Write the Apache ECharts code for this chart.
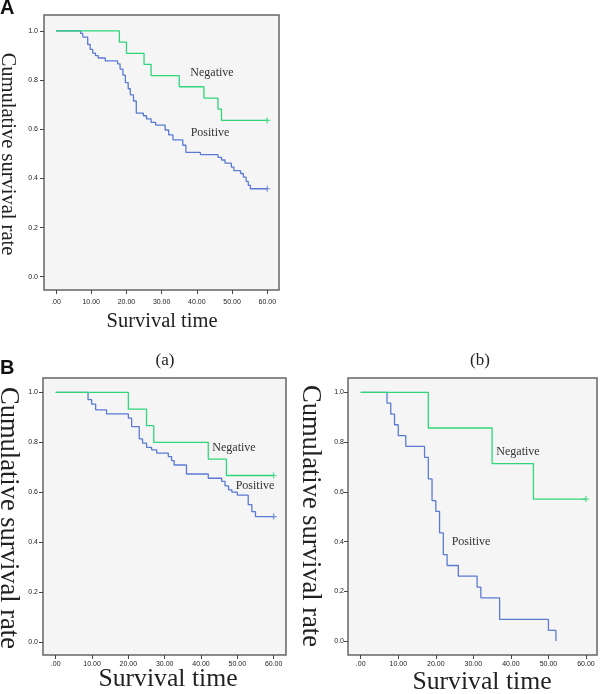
<!DOCTYPE html>
<html>
<head>
<meta charset="utf-8">
<script src="https://cdn.jsdelivr.net/npm/echarts@6/dist/echarts.min.js"></script>
<style>html,body{margin:0;padding:0;background:#fff;}#c{width:600px;height:694px;}</style>
</head>
<body>
<div id="c"></div>
<script>
// ---- tick labels ----
var xTickValues = [0, 10, 20, 30, 40, 50, 60];
var xTickLabels = ['.00', '10.00', '20.00', '30.00', '40.00', '50.00', '60.00'];
var yTickValues = [0, 0.2, 0.4, 0.6, 0.8, 1.0];
var yTickLabels = ['0.0', '0.2', '0.4', '0.6', '0.8', '1.0'];

// ---- Panel A ----
var aNegTime = [0, 18, 20, 25, 27, 35, 42, 46, 47, 60];
var aNegSurv = [1, 0.955, 0.909, 0.864, 0.818, 0.773, 0.727, 0.682, 0.636, 0.636];
var aPosTime = [0, 7, 7.6, 9, 9.7, 10.4, 11.2, 12, 14, 17.5, 18.2, 19, 19.7, 20.5, 21.1, 22, 22.8, 24.8, 25.7, 27, 28.3, 31, 32, 33.2, 36, 36.9, 41, 46, 47, 48, 49.8, 50.5, 52.4, 53.2, 54, 54.6, 55.2, 60];
var aPosSurv = [1, 0.99, 0.975, 0.945, 0.925, 0.91, 0.9, 0.89, 0.878, 0.866, 0.845, 0.82, 0.79, 0.765, 0.74, 0.715, 0.666, 0.655, 0.642, 0.628, 0.617, 0.597, 0.577, 0.557, 0.535, 0.506, 0.497, 0.486, 0.475, 0.462, 0.446, 0.432, 0.42, 0.405, 0.388, 0.372, 0.358, 0.358];

// ---- Panel B (a) ----
var baNegTime = [0, 20, 25, 27, 42, 47, 60];
var baNegSurv = [1, 0.933, 0.867, 0.8, 0.733, 0.667, 0.667];
var baPosTime = [0, 8.9, 9.9, 11, 14, 20, 20.9, 23, 23.9, 25, 26.4, 27.8, 31, 31.9, 32.6, 36, 42, 45.7, 46.6, 47.6, 48.5, 50, 53, 54, 55, 60];
var baPosSurv = [1, 0.971, 0.953, 0.93, 0.914, 0.897, 0.863, 0.814, 0.797, 0.78, 0.77, 0.757, 0.743, 0.727, 0.709, 0.673, 0.656, 0.643, 0.625, 0.609, 0.6, 0.588, 0.55, 0.522, 0.502, 0.502];

// ---- Panel B (b) ----
var bbNegTime = [0, 18, 35, 46, 60];
var bbNegSurv = [1, 0.857, 0.714, 0.571, 0.571];
var bbPosTime = [0, 7, 8, 9, 10, 12, 17, 18, 19, 20, 21, 22, 23, 26, 31, 32, 37, 50, 52];
var bbPosSurv = [1, 0.957, 0.913, 0.870, 0.826, 0.783, 0.739, 0.652, 0.565, 0.522, 0.435, 0.348, 0.304, 0.261, 0.217, 0.174, 0.087, 0.043, 0];

var GREEN = '#2fd67a';
var BLUE = '#5b7bd3';
var PLUS = 'path://M4,0h2v4h4v2h-4v4h-2v-4h-4v-2h4z';

function zip(t, s) { return t.map(function (v, i) { return [v, s[i]]; }); }
function lastPt(t, s) { return [[t[t.length - 1], s[s.length - 1]]]; }

var grids = [
  {left: 44, top: 15, width: 235, height: 275},
  {left: 43, top: 378, width: 243, height: 277},
  {left: 348, top: 378, width: 249, height: 277}
];
var xRanges = [[-3.41, 63.33], [-3.5, 63.4], [-3.39, 62.94]];
var yRanges = [[-0.054, 1.065], [-0.053, 1.058], [-0.056, 1.058]];
var xMargins = [9, 6, 6];
var yMargins = [6, 5, 4];

var tickFont = {fontSize: 7, fontFamily: 'Liberation Sans Narrow, Liberation Sans, Arial', color: '#222'};

var option = {
  animation: false,
  backgroundColor: '#ffffff',
  grid: grids.map(function (g) {
    return Object.assign({show: true, backgroundColor: '#f5f5f5', borderColor: '#666', borderWidth: 1.5, containLabel: false}, g);
  }),
  xAxis: grids.map(function (g, i) {
    return {
      type: 'value', gridIndex: i, min: xRanges[i][0], max: xRanges[i][1], position: 'bottom',
      axisLine: {show: false, onZero: false},
      splitLine: {show: false},
      axisTick: {show: true, length: 4, customValues: xTickValues, lineStyle: {color: '#444'}},
      axisLabel: Object.assign({
        customValues: xTickValues, margin: xMargins[i],
        formatter: function (v) { return xTickLabels[xTickValues.indexOf(v)]; }
      }, tickFont)
    };
  }),
  yAxis: grids.map(function (g, i) {
    return {
      type: 'value', gridIndex: i, min: yRanges[i][0], max: yRanges[i][1], position: 'left',
      axisLine: {show: false, onZero: false},
      splitLine: {show: false},
      axisTick: {show: true, length: 4, customValues: yTickValues, lineStyle: {color: '#444'}},
      axisLabel: Object.assign({
        customValues: yTickValues, margin: yMargins[i],
        formatter: function (v) {
          var k = yTickValues.findIndex(function (u) { return Math.abs(u - v) < 1e-6; });
          return yTickLabels[k];
        }
      }, tickFont)
    };
  }),
  series: [],
  graphic: []
};

var panels = [
  {neg: [aNegTime, aNegSurv], pos: [aPosTime, aPosSurv], posCensor: true},
  {neg: [baNegTime, baNegSurv], pos: [baPosTime, baPosSurv], posCensor: true},
  {neg: [bbNegTime, bbNegSurv], pos: [bbPosTime, bbPosSurv], posCensor: false}
];
panels.forEach(function (p, i) {
  option.series.push({
    type: 'line', xAxisIndex: i, yAxisIndex: i, step: 'end', showSymbol: false,
    data: zip(p.pos[0], p.pos[1]), lineStyle: {color: BLUE, width: 1.3}, itemStyle: {color: BLUE}
  });
  option.series.push({
    type: 'line', xAxisIndex: i, yAxisIndex: i, step: 'end', showSymbol: false,
    data: zip(p.neg[0], p.neg[1]), lineStyle: {color: GREEN, width: 1.3}, itemStyle: {color: GREEN}
  });
  option.series.push({
    type: 'scatter', xAxisIndex: i, yAxisIndex: i, symbol: PLUS, symbolSize: 6,
    data: lastPt(p.neg[0], p.neg[1]), itemStyle: {color: GREEN}
  });
  if (p.posCensor) {
    option.series.push({
      type: 'scatter', xAxisIndex: i, yAxisIndex: i, symbol: PLUS, symbolSize: 6,
      data: lastPt(p.pos[0], p.pos[1]), itemStyle: {color: BLUE}
    });
  }
});

function txt(str, x, y, size, opts) {
  opts = opts || {};
  return {
    type: 'text', x: x, y: y, rotation: opts.rot || 0,
    style: {
      text: str, fontSize: size,
      fontFamily: opts.font || 'Liberation Serif, Times New Roman, serif',
      fontWeight: opts.weight || 'normal',
      fill: opts.color || '#222',
      align: opts.align || 'center', verticalAlign: 'middle'
    }
  };
}
var ROT = -Math.PI / 2;
option.graphic = [
  txt('A', 0, 8, 20, {font: 'Liberation Sans, Arial', weight: 'bold', align: 'left', color: '#111'}),
  txt('B', 0, 368, 20, {font: 'Liberation Sans, Arial', weight: 'bold', align: 'left', color: '#111'}),
  txt('(a)', 165, 361, 17),
  txt('(b)', 480, 361, 17),
  // Panel A titles
  txt('Cumulative survival rate', 7, 154, 20.5, {rot: ROT}),
  txt('Survival time', 162, 322, 20.5),
  txt('Negative', 212, 73, 12, {color: '#333'}),
  txt('Positive', 210, 133, 12, {color: '#333'}),
  // Panel B(a)
  txt('Cumulative survival rate', 8, 518, 26.5, {rot: ROT}),
  txt('Survival time', 168, 679, 25.7),
  txt('Negative', 234, 448, 12, {color: '#333'}),
  txt('Positive', 255, 486, 12, {color: '#333'}),
  // Panel B(b)
  txt('Cumulative survival rate', 310, 516, 26.5, {rot: ROT}),
  txt('Survival time', 482, 682, 25.7),
  txt('Negative', 518, 452, 12, {color: '#333'}),
  txt('Positive', 471, 542, 12, {color: '#333'})
];

var chart = echarts.init(document.getElementById('c'), null, {renderer: 'canvas'});
chart.setOption(option);
</script>
</body>
</html>
